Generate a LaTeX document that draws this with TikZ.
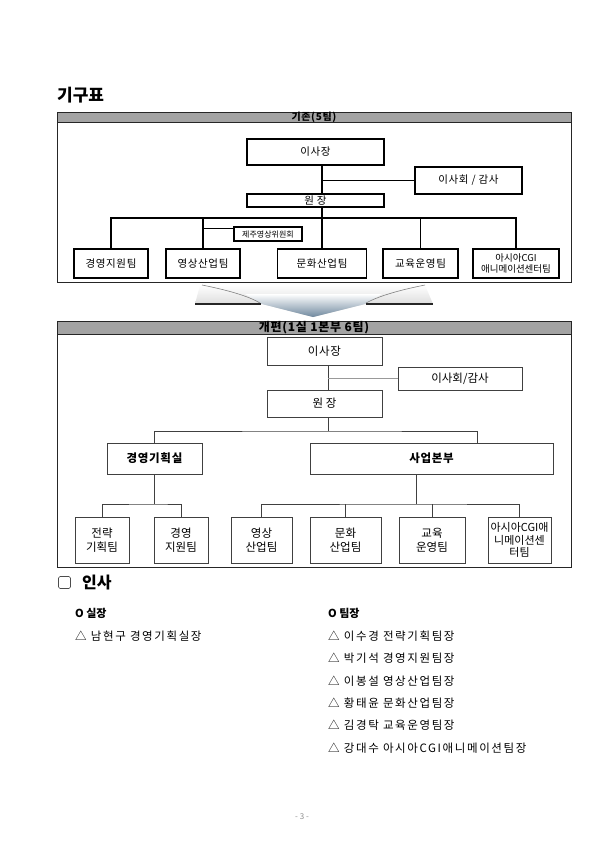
\documentclass[tikz,border=0pt]{standalone}
\usepackage{fontspec}
\setmainfont{Noto Sans CJK KR}
\newfontfamily\listfont{Noto Sans CJK KR}[LetterSpace=14]
\newfontfamily\boxfont{Noto Sans CJK KR}[LetterSpace=6]
\usepackage{tikz}

\definecolor{headgray}{HTML}{A3A3A3}
\definecolor{arrowblue}{HTML}{6F889E}

\begin{document}
\begin{tikzpicture}[x=1pt, y=-1pt,
	oldbox/.style={draw=black, line width=1.1pt, inner sep=0pt, font=\fontsize{10.5}{12}\boxfont, align=center},
	newbox/.style={draw=black!75, line width=0.8pt, inner sep=0pt, font=\fontsize{11.5}{14}\selectfont, align=center},
	oldline/.style={black, line width=1.1pt},
	newline/.style={black!75, line width=0.8pt},
	frame/.style={draw=black!85, line width=0.7pt},
	header/.style={fill=headgray, draw=black!85, line width=0.7pt},
	htext/.style={inner sep=0pt, font=\fontsize{10}{11}\boxfont\bfseries},
	item/.style={anchor=west, inner sep=0pt, font=\fontsize{11.5}{13}\listfont}]
	\useasboundingbox (0,0) rectangle (600,849);

	% Title
	\node (title) at (57,95) [anchor=west, inner sep=0pt, font=\fontsize{17}{19}\selectfont\bfseries] {기구표};

	% Old chart: frame and header
	\draw[frame] (57,112) rectangle (571,282);
	\draw[header] (57,112) rectangle (571,122);
	\node (head1) at (314,117) [htext] {기존(5팀)};

	% Old chart: boxes
	\node (ceo1) at (315.5,152) [oldbox, minimum width=137pt, minimum height=26pt] {이사장};
	\node (board1) at (468.5,180.5) [oldbox, minimum width=107pt, minimum height=27pt] {이사회 / 감사};
	\node (dir1) at (315.5,200.5) [oldbox, minimum width=137pt, minimum height=13pt] {원 장};
	\node (cmt1) at (268,234) [oldbox, minimum width=68pt, minimum height=14pt, font=\fontsize{8}{9}\selectfont] {제주영상위원회};
	\node (t1) at (111,263.5) [oldbox, minimum width=74pt, minimum height=29pt] {경영지원팀};
	\node (t2) at (203,263.5) [oldbox, minimum width=74pt, minimum height=29pt] {영상산업팀};
	\node (t3) at (322,263.5) [oldbox, minimum width=89pt, minimum height=29pt] {문화산업팀};
	\node (t4) at (420.5,263.5) [oldbox, minimum width=75pt, minimum height=29pt] {교육운영팀};
	\node (t5) at (516,263.5) [oldbox, minimum width=86pt, minimum height=29pt, font=\fontsize{9.5}{11}\selectfont] {아시아CGI\\애니메이션센터팀};

	% Old chart: lines
	\coordinate (bus1) at (322,218);
	\coordinate (cmtjoin) at (203,228.5);
	\draw[oldline] (ceo1.south -| t3) -- (dir1.north -| t3);
	\draw[oldline] (board1.west -| t3) -- (board1.west);
	\draw[oldline] (dir1.south -| t3) -- (t3.north);
	\draw[oldline] (t1.north) |- (bus1) -| (t5.north);
	\draw[oldline] (t2.north) -- (t2.north |- bus1);
	\draw[oldline] (t4.north) -- (t4.north |- bus1);
	\draw[oldline] (cmtjoin) -- (cmtjoin -| cmt1.west);

	% Arrow between the charts
	\shade[top color=white, bottom color=black!22]
		(200,285) -- (425,285) -- (433,304) -- (365,304) -- (313,317) -- (262,304) -- (195,304) -- cycle;
	\shade[top color=white, bottom color=arrowblue]
		(245,294) -- (382,294) -- (365,304) -- (313,317) -- (262,304) -- cycle;
	\draw[black!50, line width=0.6pt] (202,285) .. controls (232,291) and (250,297) .. (260,303);
	\draw[black!50, line width=0.6pt] (425,285) .. controls (395,291) and (377,297) .. (366,303);
	\draw[black!85, line width=2pt] (195,304) -- (261,304);
	\draw[black!85, line width=2pt] (366,304) -- (433,304);

	% New chart: frame and header
	\draw[frame] (57,321) rectangle (571,567);
	\draw[header] (57,321) rectangle (571,334);
	\node (head2) at (314,327.5) [htext, font=\fontsize{12}{13}\boxfont\bfseries] {개편(1실 1본부 6팀)};

	% New chart: boxes
	\node (ceo2) at (324.5,351) [newbox, minimum width=115pt, minimum height=28pt, font=\fontsize{11.5}{14}\boxfont] {이사장};
	\node (board2) at (460,378.5) [newbox, minimum width=124pt, minimum height=23pt] {이사회/감사};
	\node (dir2) at (324.5,403.5) [newbox, minimum width=115pt, minimum height=27pt] {원 장};
	\node (off2) at (154.5,458.5) [newbox, minimum width=95pt, minimum height=31pt, font=\fontsize{11.5}{13}\boxfont\bfseries] {경영기획실};
	\node (biz2) at (431.5,458.5) [newbox, minimum width=243pt, minimum height=31pt, font=\fontsize{11.5}{13}\boxfont\bfseries] {사업본부};
	\node (s1) at (102,540) [newbox, minimum width=54pt, minimum height=46pt] {전략\\기획팀};
	\node (s2) at (181,540) [newbox, minimum width=54pt, minimum height=46pt] {경영\\지원팀};
	\node (s3) at (261.5,540) [newbox, minimum width=61pt, minimum height=46pt] {영상\\산업팀};
	\node (s4) at (345.5,540) [newbox, minimum width=71pt, minimum height=46pt] {문화\\산업팀};
	\node (s5) at (432,540) [newbox, minimum width=66pt, minimum height=46pt] {교육\\운영팀};
	\node (s6) at (519.5,540) [newbox, minimum width=63pt, minimum height=46pt, font=\fontsize{11}{12.5}\selectfont] {아시아CGI애\\니메이션센\\터팀};

	% New chart: lines
	\coordinate (bus2) at (328,431);
	\coordinate (bizdrop) at (477,443);
	\coordinate (subL) at (154.5,504);
	\coordinate (subR) at (416,504);
	\draw[newline] (ceo2.south -| bus2) -- (dir2.north -| bus2);
	\draw[black!40, line width=0.8pt] (board2.west -| bus2) -- (board2.west);
	\draw[newline] (dir2.south -| bus2) -- (bus2);
	\draw[newline] (off2.north) |- (bus2) -| (bizdrop);
	\draw[newline] (off2.south) -- (subL);
	\draw[newline] (s1.north) |- (subL) -| (s2.north);
	\draw[newline] (biz2.south -| subR) -- (subR);
	\draw[newline] (s3.north) |- (subR) -| (s6.north);
	\draw[newline] (s4.north) -- (s4.north |- subR);
	\draw[newline] (s5.north) -- (s5.north |- subR);

	% Staff section
	\node (chk) at (64.5,582.5) [draw=black!70, line width=0.6pt, rounded corners=1.5pt, minimum size=12pt, inner sep=0pt] {};
	\node (insa) at (82,583) [anchor=west, inner sep=0pt, font=\fontsize{16}{18}\selectfont\bfseries] {인사};

	%Left column
	\node (chief) at (75,613) [item, font=\fontsize{11}{12}\selectfont\bfseries] {O\ 실장};
	\node (chief1) at (75,636) [item] {△ 남현구 경영기획실장};

	%Right column
	\node (lead) at (328,613) [item, font=\fontsize{11}{12}\selectfont\bfseries] {O\ 팀장};
	\node (lead1) at (328,636) [item] {△ 이수경 전략기획팀장};
	\node (lead2) at (328,658) [item] {△ 박기석 경영지원팀장};
	\node (lead3) at (328,681) [item] {△ 이봉설 영상산업팀장};
	\node (lead4) at (328,703) [item] {△ 황태윤 문화산업팀장};
	\node (lead5) at (328,725) [item] {△ 김경탁 교육운영팀장};
	\node (lead6) at (328,748) [item] {△ 강대수 아시아CGI애니메이션팀장};

	% Page number
	\node (pgnum) at (302,817) [text=black!45, font=\fontsize{8}{9}\selectfont] {- 3 -};

\end{tikzpicture}
\end{document}
